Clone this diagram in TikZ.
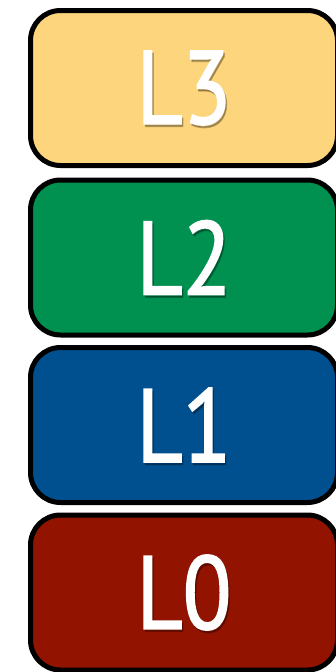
\documentclass[tikz,border=0pt]{standalone}
\usepackage{fontspec}
\setmainfont{PT Sans}
\newfontfamily\lblfont{PT Sans}[FakeBold=1.6]
\definecolor{cyel}{HTML}{FDD57C}
\definecolor{cgrn}{HTML}{00904F}
\definecolor{cblu}{HTML}{00508F}
\definecolor{cred}{HTML}{921300}
\newcommand{\lbltxt}[1]{\scalebox{0.86}[1]{#1}}
\begin{document}
\begin{tikzpicture}[x=1pt,y=-1pt,
  layer/.style={draw=black, line width=5pt, rounded corners=30pt,
    minimum width=307pt, minimum height=155pt, inner sep=0pt},
  lbl/.style={text=white, inner sep=0pt, font=\lblfont\fontsize{104}{104}\selectfont},
  shade/.style={text=black, opacity=0.25, inner sep=0pt, font=\lblfont\fontsize{104}{104}\selectfont}]
\useasboundingbox (0,0) rectangle (336,672);
\clip (0,0) rectangle (336,672);
\fill[white] (0,0) rectangle (336,672);
\node[layer, fill=cyel] (l3) at (184,88) {};
\node[layer, fill=cgrn] (l2) at (184,257.5) {};
\node[layer, fill=cblu] (l1) at (184,425) {};
\node[layer, fill=cred] (l0) at (184,592.5) {};
\node[shade] (s3) at ([shift={(1.5,2.5)}]l3.center) {\lbltxt{L3}};
\node[shade] (s2) at ([shift={(1.5,2.5)}]l2.center) {\lbltxt{L2}};
\node[shade] (s1) at ([shift={(1.5,2.5)}]l1.center) {\lbltxt{L1}};
\node[shade] (s0) at ([shift={(1.5,2.5)}]l0.center) {\lbltxt{L0}};
\node[lbl] (t3) at (l3.center) {\lbltxt{L3}};
\node[lbl] (t2) at (l2.center) {\lbltxt{L2}};
\node[lbl] (t1) at (l1.center) {\lbltxt{L1}};
\node[lbl] (t0) at (l0.center) {\lbltxt{L0}};
\end{tikzpicture}
\end{document}
